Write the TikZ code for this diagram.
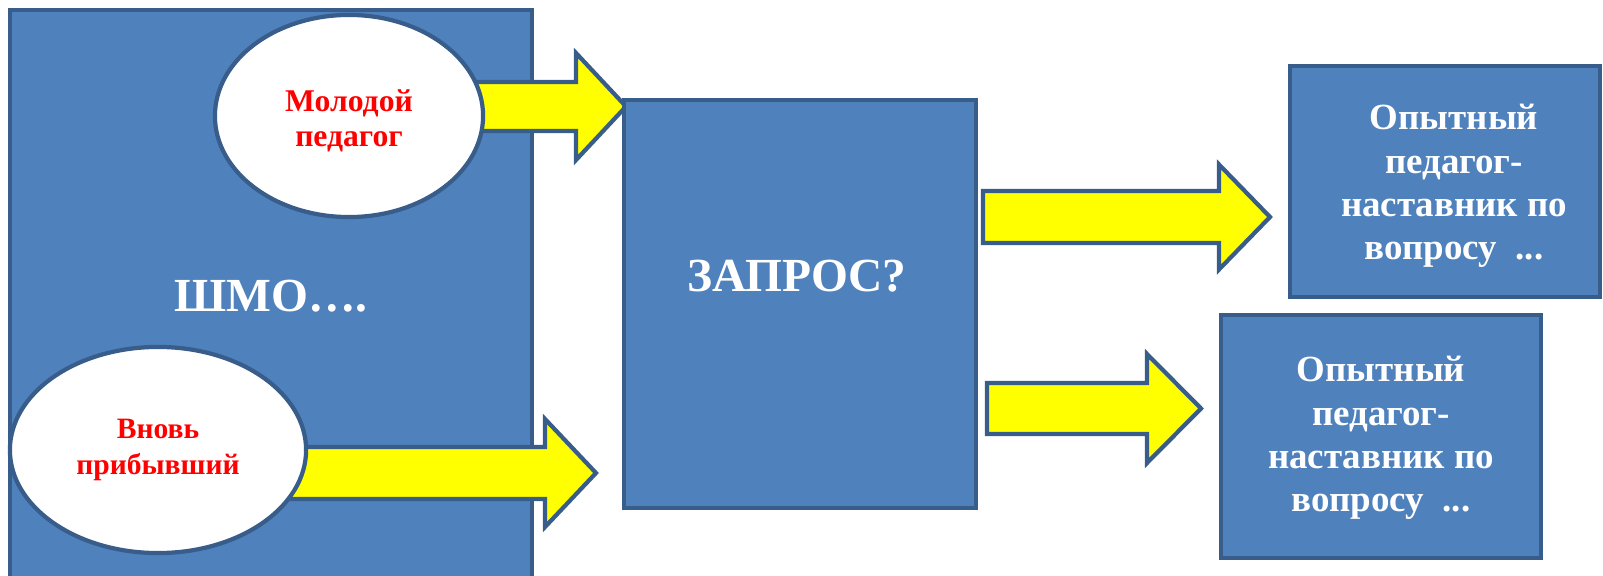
\documentclass[tikz,border=0pt]{standalone}
\usepackage{fontspec}
\setmainfont{Liberation Serif}
\usetikzlibrary{shapes.geometric}
\definecolor{boxblue}{HTML}{4F81BD}
\definecolor{edgeblue}{HTML}{385D8A}
\definecolor{fatyellow}{RGB}{255,255,0}
\newcommand\edgew{1.2pt}
\tikzstyle{bluebox}=[
  draw=edgeblue,fill=boxblue,line width=\edgew,
  inner sep=0pt,text=white,font=\bfseries,align=center]
\tikzstyle{oval}=[
  ellipse,draw=edgeblue,fill=white,line width=\edgew,inner sep=0pt,
  text=red,align=center]
\tikzstyle{fat}=[draw=edgeblue,fill=fatyellow,line width=\edgew,line join=miter]
% block arrow: start x, head x, tip x, mid y, half shaft, half head
\newcommand\fatarrow[6]{%
  \draw[fat] (#1,#4-#5) -- (#2,#4-#5) -- (#2,#4-#6) -- (#3,#4)
    -- (#2,#4+#6) -- (#2,#4+#5) -- (#1,#4+#5) -- cycle;}

\begin{document}
\begin{tikzpicture}[x=0.01cm,y=-0.01cm]
\tikzset{big/.style={text=white,font=\bfseries\fontsize{13.5}{16}\selectfont},
  small/.style={text=white,align=center,font=\bfseries\fontsize{10.5}{12.3}\selectfont},
  redtext/.style={text=red,align=center,font=\bfseries\fontsize{#1}{10}\selectfont}}
\useasboundingbox (0,0) rectangle (1603,576);
\clip (0,0) rectangle (1603,576);
\node[bluebox,minimum width=5.22cm,minimum height=5.72cm] (shmo) at (271,296) {};
\node[big] (shmoT) at (shmo.center) {ШМО….};
\fatarrow{440}{576}{626}{106.5}{24.5}{53.5}
\fatarrow{280}{545}{596}{473}{26}{54}
\node[oval,minimum width=2.68cm,minimum height=2.02cm] (young) at (349,116) {};
\node[redtext=9] (youngT) at (349,121) {Молодой\\педагог};
\node[oval,minimum width=2.96cm,minimum height=2.06cm] (newcome) at (158,450) {};
\node[redtext=8.4] (newcomeT) at (newcome.center) {Вновь\\прибывший};
\node[bluebox,minimum width=3.52cm,minimum height=4.08cm] (zapros) at (800,304) {};
\node[big] (zaprosT) at (797,276) {ЗАПРОС?};
\fatarrow{983}{1219}{1270}{217}{26}{52.5}
\fatarrow{987}{1147}{1201}{408.5}{25.5}{54.5}
\node[bluebox,minimum width=3.10cm,minimum height=2.31cm] (mentorA) at (1445,181.5) {};
\node[small] (mentorAT) at (1454,186)
  {Опытный\\педагог-\\наставник по\\вопросу\ \ ...};
\node[bluebox,minimum width=3.20cm,minimum height=2.43cm] (mentorB) at (1381,436.5) {};
\node[small] (mentorBT) at (1381,438)
  {Опытный\\педагог-\\наставник по\\вопросу\ \ ...};
\end{tikzpicture}
\end{document}
